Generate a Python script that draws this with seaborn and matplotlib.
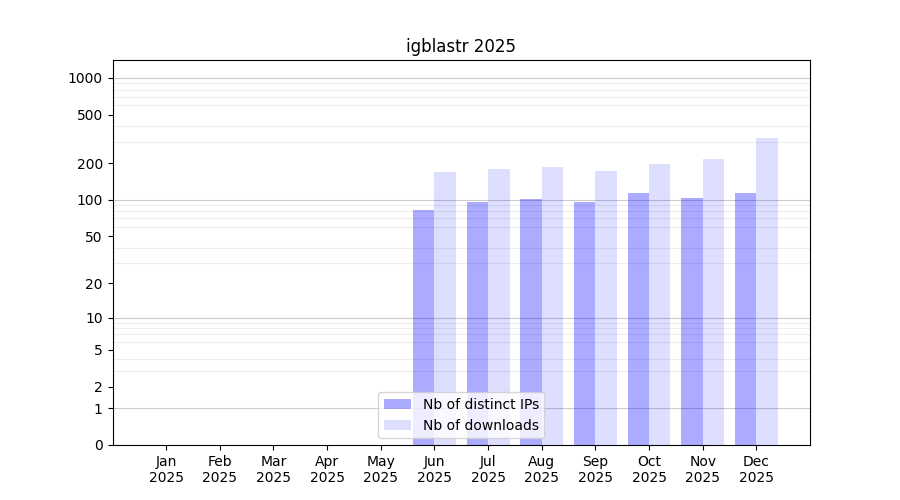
import matplotlib
matplotlib.use("Agg")
import matplotlib.pyplot as plt
import matplotlib.ticker as mticker
import numpy as np
import pandas as pd
import seaborn as sns

# monthly stats for igblastr in 2025
months = ["Jan", "Feb", "Mar", "Apr", "May", "Jun",
          "Jul", "Aug", "Sep", "Oct", "Nov", "Dec"]
year = "2025"
distinct_ips = [0, 0, 0, 0, 0, 82, 96, 102, 96, 114, 104, 114]
downloads = [0, 0, 0, 0, 0, 170, 180, 187, 173, 198, 217, 323]
series_names = ["Nb of distinct IPs", "Nb of downloads"]
y_ticks = [0, 1, 2, 5, 10, 20, 50, 100, 200, 500, 1000]

labels = [f"{m}\n{year}" for m in months]
df = pd.DataFrame({
    "month": labels * 2,
    "count": distinct_ips + downloads,
    "series": [series_names[0]] * len(months) + [series_names[1]] * len(months),
})

fig, ax = plt.subplots(figsize=(9, 5), dpi=100)

# log(1 + y) so that zero months still fit on the axis
ax.set_yscale("function", functions=(lambda y: np.log10(np.clip(y, 0, None) + 1),
                                     lambda y: 10 ** y - 1))

sns.barplot(data=df, x="month", y="count", hue="series", order=labels,
            hue_order=series_names, palette=["blue", "blue"], saturation=1,
            width=0.8, legend=False, ax=ax, zorder=2)

for container, alpha in zip(ax.containers, [0.33, 0.13]):
    for bar in container:
        bar.set_alpha(alpha)
        bar.set_edgecolor("none")

# grid: light lines at every 2..9 x 10^n, darker at the decades
minor = [k * 10 ** n for n in range(0, 4) for k in range(2, 10)]
ax.yaxis.set_minor_locator(mticker.FixedLocator(minor))
ax.yaxis.set_major_locator(mticker.FixedLocator(y_ticks))
ax.yaxis.set_major_formatter(mticker.FuncFormatter(lambda v, p: f"{v:g}"))
ax.yaxis.set_minor_formatter(mticker.NullFormatter())
ax.tick_params(axis="y", which="minor", length=0)
ax.grid(axis="y", which="minor", color="0.93", linewidth=0.8, zorder=0)
for d in [1, 10, 100, 1000]:
    ax.axhline(d, color="0.8", linewidth=0.8, zorder=1)

ax.set_ylim(0, 1400)
ax.set_xlim(-1, 12)
ax.set_xlabel("")
ax.set_ylabel("")
ax.set_title("igblastr 2025")

ax.legend(handles=ax.containers, labels=series_names, loc="lower center")

plt.savefig("out.png", dpi=100)
plt.close(fig)
